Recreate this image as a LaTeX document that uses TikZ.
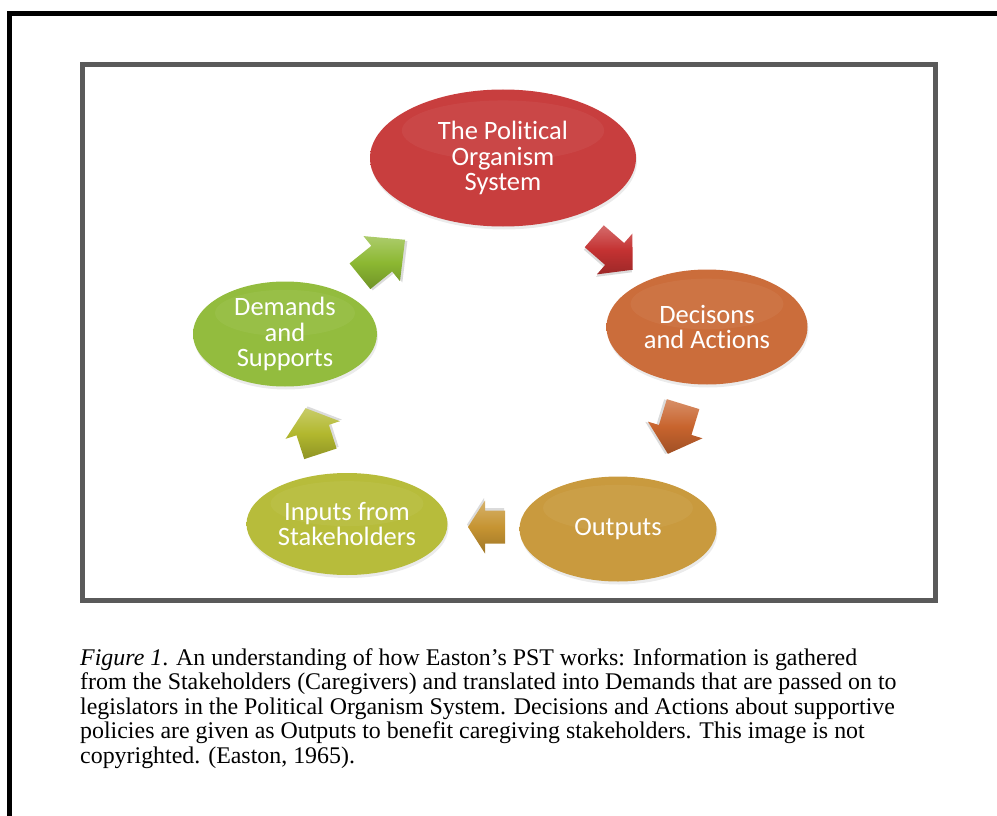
\documentclass[tikz,border=0pt]{standalone}
\usepackage{fontspec}
\setmainfont{Liberation Serif}
\newfontfamily\bubfont[Ligatures=NoCommon]{Carlito}
\usetikzlibrary{shapes.geometric,shadows,calc}

\definecolor{cRed}{RGB}{196,50,50}
\definecolor{cOrange}{RGB}{200,100,46}
\definecolor{cGold}{RGB}{198,148,50}
\definecolor{cYellow}{RGB}{178,184,46}
\definecolor{cGreen}{RGB}{140,184,50}
\definecolor{frameGray}{RGB}{90,90,90}
\colorlet{bubin}{red}
\colorlet{bubout}{black}

\pgfdeclareradialshading[bubin,bubout]{bubshade}{\pgfpoint{0bp}{4bp}}{%
  color(0bp)=(bubin); color(30bp)=(bubin); color(46bp)=(bubout); color(50bp)=(bubout)}

\tikzset{
  bubble/.style={ellipse, inner sep=0pt, text=white,
    font=\bubfont\fontsize{26.5}{25.5}\selectfont, align=center,
    drop shadow={opacity=0.16, shadow xshift=1pt, shadow yshift=-3pt},
    /utils/exec={\colorlet{bubin}{#1!94!white}\colorlet{bubout}{#1!72!black}},
    shade, shading=bubshade,
    path picture={
      \path (path picture bounding box.south west) coordinate (ppsw)
            (path picture bounding box.north east) coordinate (ppne);
      \fill[white, opacity=0.05] let \p1=(ppsw), \p2=(ppne) in
        ({(\x1+\x2)/2},{\y2-0.3*(\y2-\y1)}) ellipse
        [x radius={0.38*(\x2-\x1)}, y radius={0.22*(\y2-\y1)}];
    }},
  capline/.style={anchor=base west, inner sep=0pt,
    font=\fontsize{23.9}{25}\selectfont}
}

% block arrow: name, x, y, angle, length, head width, shaft width, head length, colour
\newcommand\blockarrow[9]{%
  \coordinate (#1) at (#2,#3);
  \begin{scope}[shift={(#1)}, rotate=#4]
    \fill[black, opacity=0.14, xshift=1pt, yshift=-2.5pt]
      ({-0.5*#5pt},{0.5*#7pt}) -- ({(0.5*#5-#8)*1pt},{0.5*#7pt}) -- ({(0.5*#5-#8)*1pt},{0.5*#6pt})
      -- ({0.5*#5pt},0pt) -- ({(0.5*#5-#8)*1pt},{-0.5*#6pt}) -- ({(0.5*#5-#8)*1pt},{-0.5*#7pt})
      -- ({-0.5*#5pt},{-0.5*#7pt}) -- cycle;
    \shade[top color=#9!72!white, bottom color=#9!80!black, middle color=#9]
      ({-0.5*#5pt},{0.5*#7pt}) -- ({(0.5*#5-#8)*1pt},{0.5*#7pt}) -- ({(0.5*#5-#8)*1pt},{0.5*#6pt})
      -- ({0.5*#5pt},0pt) -- ({(0.5*#5-#8)*1pt},{-0.5*#6pt}) -- ({(0.5*#5-#8)*1pt},{-0.5*#7pt})
      -- ({-0.5*#5pt},{-0.5*#7pt}) -- cycle;
  \end{scope}}

\begin{document}
\begin{tikzpicture}[x=1pt, y=-1pt]
\useasboundingbox (0,0) rectangle (997,816);

% frames
\draw[line width=5pt, black] (9.5,830) -- (9.5,13.5) -- (1010,13.5);
\draw[line width=5pt, frameGray] (82.5,65) rectangle (935,600);

% ellipses
\node[bubble=cRed, minimum width=266pt, minimum height=137pt] (pol) at (503,158)
  {The Political\\Organism\\System};
\node[bubble=cOrange, minimum width=201pt, minimum height=115pt] (dec) at (707,327)
  {Decisons\\and Actions};
\node[bubble=cGold, minimum width=197pt, minimum height=105pt] (out) at (618,529)
  {Outputs};
\node[bubble=cYellow, minimum width=201pt, minimum height=102pt] (inp) at (347,524)
  {Inputs from\\Stakeholders};
\node[bubble=cGreen, minimum width=184pt, minimum height=105pt] (dem) at (285,334)
  {Demands\\and\\Supports};

% block arrows
\blockarrow{a1}{613.5}{253}{-41}{51}{54}{29}{24}{cRed}
\blockarrow{a2}{675.5}{429}{-107}{52}{57}{34}{25}{cOrange}
\blockarrow{a3}{486.5}{527}{180}{37}{53}{33}{17}{cGold}
\blockarrow{a4}{313}{431}{108}{48}{57}{34}{23}{cYellow}
\blockarrow{a5}{382.5}{258}{39}{58}{58}{33}{30}{cGreen}

% caption
\node[capline] (c1) at (80,665) {\textit{Figure 1}. An understanding of how Easton’s PST works: Information is gathered};
\node[capline] (c2) at (80,689.5) {from the Stakeholders (Caregivers) and translated into Demands that are passed on to};
\node[capline] (c3) at (80,714) {legislators in the Political Organism System. Decisions and Actions about supportive};
\node[capline] (c4) at (80,738.5) {policies are given as Outputs to benefit caregiving stakeholders. This image is not};
\node[capline] (c5) at (80,763) {copyrighted. (Easton, 1965).};
\end{tikzpicture}
\end{document}
